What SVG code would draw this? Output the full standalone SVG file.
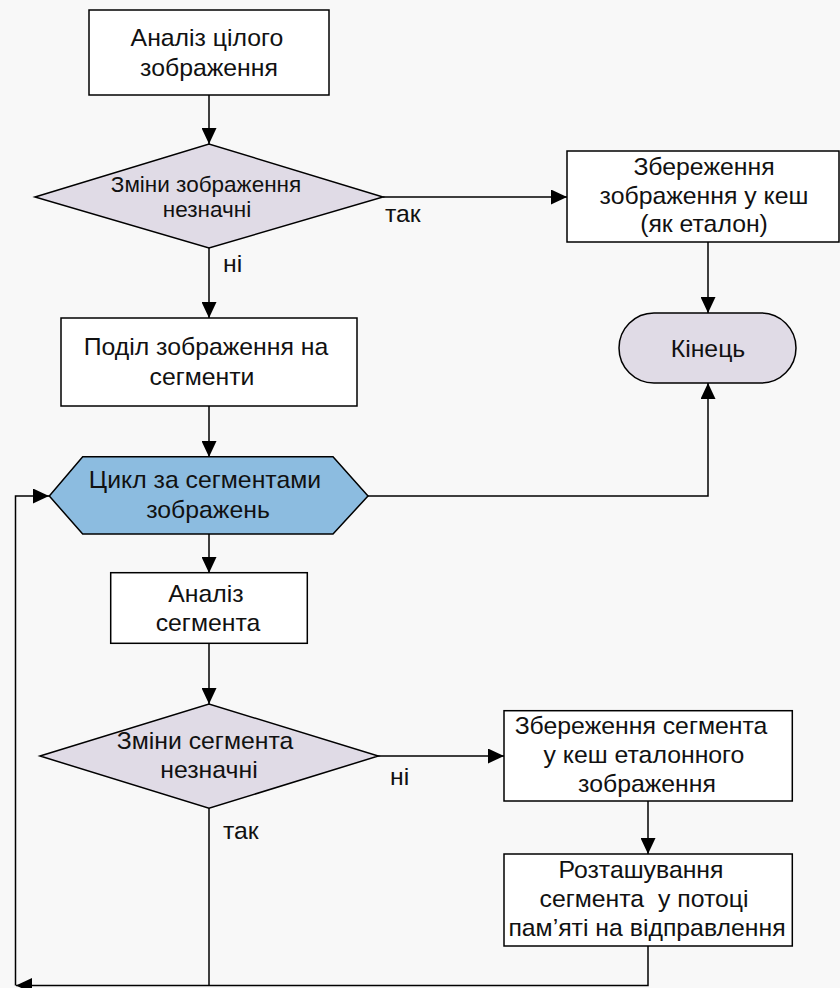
<svg xmlns="http://www.w3.org/2000/svg" width="840" height="988" viewBox="0 0 840 988">
<style>
.box{fill:#FFFFFF;stroke:#000;stroke-width:1.5}
.dec{fill:#E0DBE6;stroke:#000;stroke-width:1.5}
.loop{fill:#8CBCE0;stroke:#000;stroke-width:1.5}
.t{font-family:"Liberation Sans",Arial,sans-serif;font-size:24.8px;fill:#111;text-anchor:middle}
.ts{font-size:22.5px}
.lbl{font-family:"Liberation Sans",Arial,sans-serif;font-size:24.8px;fill:#111}
.c{fill:none;stroke:#000;stroke-width:1.5}
</style>
<defs>
<marker id="ah" markerUnits="userSpaceOnUse" markerWidth="16" markerHeight="15" refX="16" refY="7.5" orient="auto" viewBox="0 0 16 15">
<path d="M0,0 L16,7.5 L0,15 z" fill="#000"/>
</marker>
</defs>
<rect x="0" y="0" width="840" height="988" fill="#F8F8F8"/>
<g id="connectors">
<path class="c" d="M209,95 V144" marker-end="url(#ah)"/>
<path class="c" d="M383,197 H567" marker-end="url(#ah)"/>
<path class="c" d="M209,248 V318" marker-end="url(#ah)"/>
<path class="c" d="M708,242 V313" marker-end="url(#ah)"/>
<path class="c" d="M209,406 V457" marker-end="url(#ah)"/>
<path class="c" d="M368,496 H708 V383" marker-end="url(#ah)"/>
<path class="c" d="M209,534 V573" marker-end="url(#ah)"/>
<path class="c" d="M209,643 V704" marker-end="url(#ah)"/>
<path class="c" d="M378,756 H504" marker-end="url(#ah)"/>
<path class="c" d="M648,801 V854" marker-end="url(#ah)"/>
<path class="c" d="M648,946 V985.5 H16" marker-end="url(#ah)"/>
<path class="c" d="M209,808 V985.5"/>
<path class="c" d="M15.5,985.5 V496 H49" marker-end="url(#ah)"/>
<text class="lbl" x="385" y="222">так</text>
<text class="lbl" x="223" y="272">ні</text>
<text class="lbl" x="390" y="785">ні</text>
<text class="lbl" x="223" y="839">так</text>
</g>
<g id="n1">
<rect class="box" x="89" y="10" width="240" height="85"/>
<text class="t" x="207" y="46">Аналіз цілого</text>
<text class="t" x="209" y="76">зображення</text>
</g>
<g id="n2">
<polygon class="dec" points="35,197 209,144 383,197 209,248"/>
<text class="t ts" x="206" y="192">Зміни зображення</text>
<text class="t ts" x="207" y="217">незначні</text>
</g>
<g id="n3">
<rect class="box" x="567" y="151" width="272" height="91"/>
<text class="t" x="704" y="175">Збереження</text>
<text class="t" x="704" y="204">зображення у кеш</text>
<text class="t" x="704" y="232">(як еталон)</text>
</g>
<g id="n4">
<rect class="dec" x="619" y="313" width="177" height="70" rx="35" ry="35"/>
<text class="t" x="708" y="357">Кінець</text>
</g>
<g id="n5">
<rect class="box" x="61" y="318" width="296" height="88"/>
<text class="t" x="206" y="355">Поділ зображення на</text>
<text class="t" x="202" y="385">сегменти</text>
</g>
<g id="n6">
<polygon class="loop" points="49.3,496 82.7,456.7 333,456.7 368,496 333,534 82.7,534"/>
<text class="t" x="205" y="488">Цикл за сегментами</text>
<text class="t" x="208" y="518">зображень</text>
</g>
<g id="n7">
<rect class="box" x="110.7" y="572.7" width="196.6" height="70.6"/>
<text class="t" x="206" y="602">Аналіз</text>
<text class="t" x="208" y="631">сегмента</text>
</g>
<g id="n8">
<polygon class="dec" points="40,756 209,704 378.3,756 209,808.3"/>
<text class="t" x="205" y="749">Зміни сегмента</text>
<text class="t" x="209" y="778">незначні</text>
</g>
<g id="n9">
<rect class="box" x="504" y="710.7" width="288.3" height="90.3"/>
<text class="t" x="641" y="734">Збереження сегмента</text>
<text class="t" x="644" y="763">у кеш еталонного</text>
<text class="t" x="647" y="792">зображення</text>
</g>
<g id="n10">
<rect class="box" x="504" y="854" width="288.3" height="92"/>
<text class="t" x="641" y="878">Розташування</text>
<text class="t" x="644" y="907" xml:space="preserve">сегмента  у потоці</text>
<text class="t" x="647" y="936">пам’яті на відправлення</text>
</g>
</svg>
